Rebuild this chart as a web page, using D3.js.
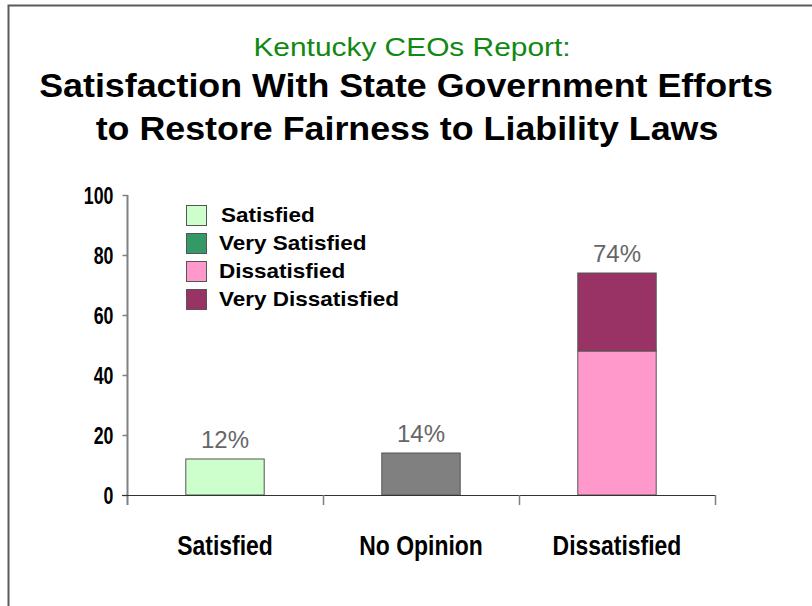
<!DOCTYPE html>
<html>
<head>
<meta charset="utf-8">
<script src="https://cdn.jsdelivr.net/npm/d3@7"></script>
<style>
  html, body { margin: 0; padding: 0; background: #fff; }
  svg { display: block; }
  text { font-family: Arial, "Liberation Sans", sans-serif; }
</style>
</head>
<body>
<svg id="chart" width="812" height="606"></svg>
<script>
// Survey answers per category, stacked by level
const categories = ["Satisfied", "No Opinion", "Dissatisfied"];
const satisfied = [12, 0, 0];
const verySatisfied = [0, 0, 0];
const noOpinion = [0, 14, 0];
const dissatisfied = [0, 0, 48];
const veryDissatisfied = [0, 0, 26];
const totalLabels = ["12%", "14%", "74%"];
const yTicks = [0, 20, 40, 60, 80, 100];
const legendNames = ["Satisfied", "Very Satisfied", "Dissatisfied", "Very Dissatisfied"];

const seriesKeys = ["satisfied", "verySatisfied", "noOpinion", "dissatisfied", "veryDissatisfied"];
const seriesColors = {
  satisfied: "#ccffcc",
  verySatisfied: "#339966",
  noOpinion: "#808080",
  dissatisfied: "#ff99cc",
  veryDissatisfied: "#993366"
};
const rows = categories.map((c, i) => ({
  category: c,
  satisfied: satisfied[i],
  verySatisfied: verySatisfied[i],
  noOpinion: noOpinion[i],
  dissatisfied: dissatisfied[i],
  veryDissatisfied: veryDissatisfied[i],
  label: totalLabels[i]
}));

const svg = d3.select("#chart");

// Outer frame (top and left edges)
svg.append("path")
  .attr("d", "M8.5,606 V5.5 H812")
  .attr("fill", "none")
  .attr("stroke", "#5a5a5a")
  .attr("stroke-width", 2);

// Titles (slightly widened lettering)
function titleLine(text, xPos, yPos, size, weight, fill, sx) {
  svg.append("text")
    .attr("transform", `translate(${xPos},${yPos}) scale(${sx},1)`)
    .attr("text-anchor", "middle")
    .attr("fill", fill)
    .style("font-size", size + "px").style("font-weight", weight)
    .text(text);
}
titleLine("Kentucky CEOs Report:", 412, 56, 26, "normal", "#118811", 1.15);
titleLine("Satisfaction With State Government Efforts", 406, 97, 34, "bold", "#000", 1.053);
titleLine("to Restore Fairness to Liability Laws", 407, 140, 34, "bold", "#000", 1.053);

// Scales
const x = d3.scaleBand().domain(categories).range([127, 715]).padding(0);
const y = d3.scaleLinear().domain([0, 100]).range([495, 195]);
const barW = x.bandwidth() * 0.4;

// Y axis
const yAxis = svg.append("g")
  .attr("transform", "translate(127.5,0)")
  .call(d3.axisLeft(y).tickValues(yTicks).tickSize(5).tickPadding(0));
yAxis.select(".domain").remove();
yAxis.selectAll(".tick line").attr("stroke", "#808080").attr("stroke-width", 1.5);
const condense = 0.74;
yAxis.selectAll(".tick text")
  .attr("fill", "#000")
  .attr("font-family", "Arial, 'Liberation Sans', sans-serif")
  .attr("font-size", 24)
  .attr("font-weight", "bold")
  .attr("x", -14 / condense)
  .attr("dy", "0.36em")
  .attr("transform", `scale(${condense},1)`);
svg.append("line")
  .attr("x1", 127.5).attr("x2", 127.5)
  .attr("y1", y(100)).attr("y2", 505)
  .attr("stroke", "#808080").attr("stroke-width", 2);

// Bars
const stack = d3.stack().keys(seriesKeys);
const layers = stack(rows);
svg.append("g").selectAll("g")
  .data(layers)
  .join("g")
  .attr("fill", d => seriesColors[d.key])
  .selectAll("rect")
  .data(d => d.filter(s => s[1] - s[0] > 0))
  .join("rect")
  .attr("x", d => x(d.data.category) + (x.bandwidth() - barW) / 2)
  .attr("width", barW)
  .attr("y", d => y(d[1]))
  .attr("height", d => y(d[0]) - y(d[1]))
  .attr("stroke", "#555")
  .attr("stroke-width", 1);

// X axis baseline and category separators
svg.append("line")
  .attr("x1", 122).attr("x2", x.range()[1])
  .attr("y1", 495.5).attr("y2", 495.5)
  .attr("stroke", "#333").attr("stroke-width", 1);
const separators = categories.slice(1).map(c => x(c)).concat([x.range()[1]]);
svg.append("g").selectAll("line")
  .data(separators)
  .join("line")
  .attr("x1", d => d + 0.5)
  .attr("x2", d => d + 0.5)
  .attr("y1", 495).attr("y2", 505)
  .attr("stroke", "#808080").attr("stroke-width", 1.5);

// Category labels
const catCondense = 0.85;
svg.append("g").selectAll("text")
  .data(categories)
  .join("text")
  .attr("transform", d => `translate(${x(d) + x.bandwidth() / 2},555) scale(${catCondense},1)`)
  .attr("text-anchor", "middle")
  .style("font-size", "27px").style("font-weight", "bold")
  .attr("fill", "#000")
  .text(d => d);

// Value labels above each stack
svg.append("g").selectAll("text")
  .data(rows)
  .join("text")
  .attr("x", d => x(d.category) + x.bandwidth() / 2)
  .attr("y", d => y(d3.sum(seriesKeys, k => d[k])) - 11)
  .attr("text-anchor", "middle")
  .attr("fill", "#666")
  .style("font-size", "24px")
  .text(d => d.label);

// Legend
const legendKeys = ["satisfied", "verySatisfied", "dissatisfied", "veryDissatisfied"];
const legend = svg.append("g").attr("transform", "translate(186,205)");
const item = legend.selectAll("g")
  .data(legendKeys)
  .join("g")
  .attr("transform", (d, i) => `translate(0,${i * 28})`);
item.append("rect")
  .attr("x", 0.5).attr("y", 0.5)
  .attr("width", 20).attr("height", 20)
  .attr("fill", d => seriesColors[d])
  .attr("stroke", "#555").attr("stroke-width", 1);
item.append("text")
  .attr("transform", (d, i) => `translate(${i === 0 ? 35 : 33},17) scale(1.125,1)`)
  .style("font-size", "20px").style("font-weight", "bold")
  .attr("fill", "#000")
  .text((d, i) => legendNames[i]);
</script>
</body>
</html>
